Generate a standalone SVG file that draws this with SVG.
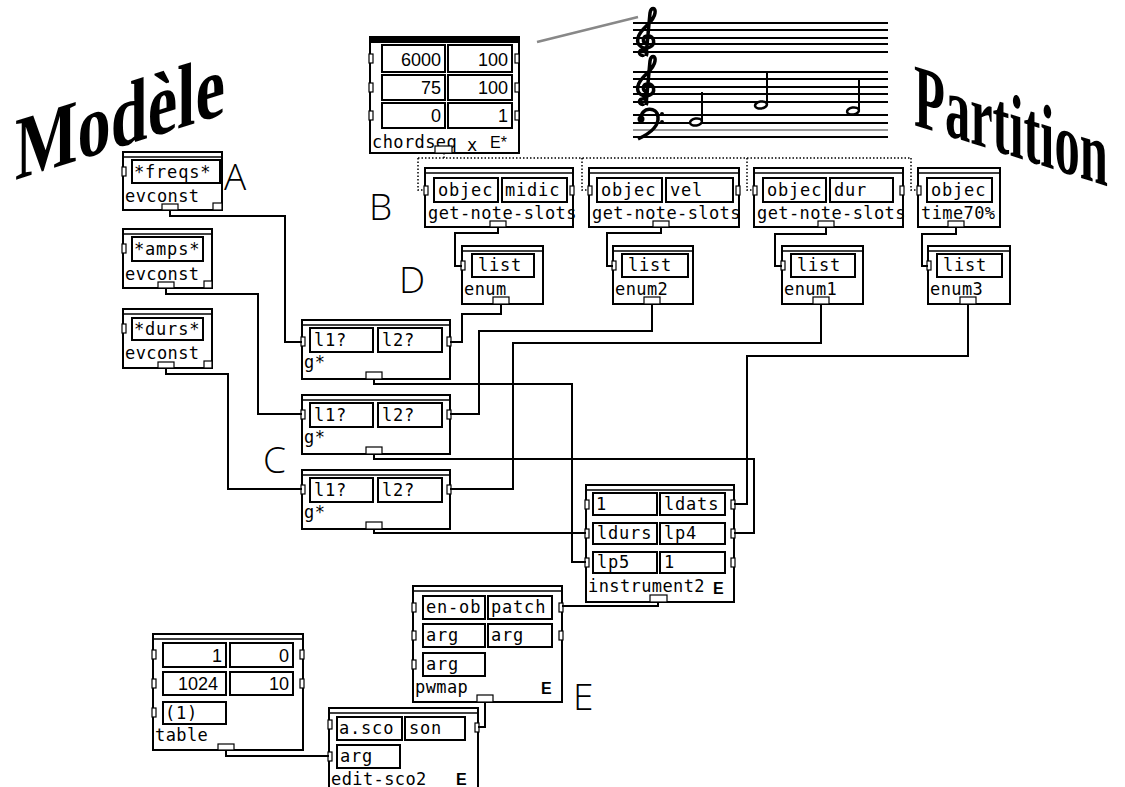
<svg xmlns="http://www.w3.org/2000/svg" width="1125" height="787" viewBox="0 0 1125 787">
<style>
.box{fill:#fff;stroke:#000;stroke-width:2}
.bar{stroke:#000;stroke-width:1.5}
.fld{fill:none;stroke:#000;stroke-width:2}
.io{fill:#fff;stroke:#000;stroke-width:1.2}
.t{font-family:"DejaVu Sans Mono","Liberation Mono",monospace;font-size:17px;letter-spacing:0.8px;fill:#000}
.lb{font-family:"DejaVu Sans Mono","Liberation Mono",monospace;font-size:17px;letter-spacing:0.4px;fill:#000}
.n{font-family:"Liberation Sans",Arial,sans-serif;font-size:18px;fill:#000}
.e{font-family:"Liberation Sans",Arial,sans-serif;font-size:16px;fill:#000}
.big{font-family:"Open Sans","Liberation Sans",sans-serif;font-weight:300;font-size:37px;fill:#000}
.title{font-family:"Liberation Serif","Times New Roman",serif;font-weight:bold;fill:#000}
.wire{fill:none;stroke:#000;stroke-width:2}
.dot{fill:none;stroke:#000;stroke-width:1.5;stroke-dasharray:1.5 2}
.staff{stroke:#000;stroke-width:2}
</style>

<g id="title-modele"><text class="title" transform="translate(15,180) skewY(-17.5)" font-size="90" textLength="210" lengthAdjust="spacingAndGlyphs">Modèle</text></g>
<g id="title-partition"><text class="title" transform="translate(914,125) skewY(17.6) scale(0.562,1)" font-size="90">Partition</text></g>

<g id="labels">
<text class="big" x="224" y="190">A</text>
<text class="big" x="369" y="220">B</text>
<text class="big" x="263" y="473">C</text>
<text class="big" x="399" y="293">D</text>
<text class="big" x="573" y="710">E</text>
</g>

<g id="score">
<line x1="537" y1="42" x2="638" y2="17" stroke="#888" stroke-width="2.5"/>
<g class="staff">
<line x1="633" y1="23" x2="888" y2="23"/><line x1="633" y1="30" x2="888" y2="30"/><line x1="633" y1="38" x2="888" y2="38"/><line x1="633" y1="44" x2="888" y2="44"/><line x1="633" y1="52" x2="888" y2="52"/>
<line x1="633" y1="72" x2="888" y2="72"/><line x1="633" y1="79" x2="888" y2="79"/><line x1="633" y1="87" x2="888" y2="87"/><line x1="633" y1="94" x2="888" y2="94"/><line x1="633" y1="102" x2="888" y2="102"/>
<line x1="633" y1="115" x2="888" y2="115"/><line x1="633" y1="123" x2="888" y2="123"/><line x1="633" y1="130" x2="888" y2="130" stroke="#999"/><line x1="633" y1="137" x2="888" y2="137"/>
</g>
<g fill="none" stroke="#000" stroke-width="3.5">
<path d="M644,55 C640,57 637,51 642,50 C646,49 648,53 646,56 M646,56 L650,13 C651,7 656,7 655,13 C654,23 640,28 638,38 C636,46 644,50 650,47 C656,44 654,36 648,36 C642,36 642,43 647,44"/>
<path d="M644,104 C640,106 637,100 642,99 C646,98 648,102 646,105 M646,105 L650,61 C651,55 656,55 655,61 C654,71 640,76 638,86 C636,94 644,98 650,95 C656,92 654,84 648,84 C642,84 642,91 647,92"/>
<path d="M641,118 C641,107 657,106 658,117 C659,127 649,134 638,139"/>
</g>
<circle cx="641" cy="119" r="3.5" fill="#000"/>
<circle cx="662" cy="114" r="2" fill="#000"/><circle cx="662" cy="122" r="2" fill="#000"/>
<g fill="#fff" stroke="#000" stroke-width="2.5">
<ellipse cx="696" cy="122" rx="6" ry="3.5" transform="rotate(-10 696 122)"/>
<ellipse cx="761" cy="105" rx="6" ry="3.5" transform="rotate(-10 761 105)"/>
<ellipse cx="853" cy="111" rx="6" ry="3.5" transform="rotate(-10 853 111)"/>
</g>
<g stroke="#000" stroke-width="2">
<line x1="702" y1="92" x2="702" y2="121"/>
<line x1="767" y1="73" x2="767" y2="104"/>
<line x1="859" y1="80" x2="859" y2="110"/>
</g>
</g>

<g id="chordseq">
<rect class="box" x="370" y="37" width="149" height="116"/>
<rect x="370" y="37" width="149" height="6" fill="#000"/>
<rect class="fld" x="382" y="45" width="63" height="27"/><rect class="fld" x="448" y="45" width="64" height="27"/>
<rect class="fld" x="382" y="75" width="63" height="25"/><rect class="fld" x="448" y="75" width="64" height="25"/>
<rect class="fld" x="382" y="103" width="63" height="25"/><rect class="fld" x="448" y="103" width="64" height="25"/>
<rect class="io" x="369" y="54" width="4" height="9"/><rect class="io" x="369" y="83" width="4" height="9"/><rect class="io" x="369" y="111" width="4" height="9"/>
<rect class="io" x="515" y="54" width="4" height="9"/><rect class="io" x="515" y="83" width="4" height="9"/><rect class="io" x="515" y="111" width="4" height="9"/>
<text class="n" x="441" y="66" text-anchor="end">6000</text><text class="n" x="508" y="66" text-anchor="end">100</text>
<text class="n" x="441" y="94" text-anchor="end">75</text><text class="n" x="508" y="94" text-anchor="end">100</text>
<text class="n" x="441" y="122" text-anchor="end">0</text><text class="n" x="508" y="122" text-anchor="end">1</text>
<text class="lb" x="372" y="148">chordseq</text>
<text class="lb" x="467" y="151" font-size="12">x</text>
<text class="e" x="490" y="148">E*</text>
<rect class="io" x="435" y="146" width="17" height="7"/>
</g>

<g id="get-note-slots-1">
<rect class="box" x="425" y="168" width="148" height="59"/><line class="bar" x1="425" y1="173" x2="573" y2="173"/>
<rect class="fld" x="434" y="178" width="64" height="24"/><rect class="fld" x="502" y="178" width="65" height="24"/>
<text class="t" x="438" y="196">objec</text><text class="t" x="505" y="196">midic</text>
<text class="lb" x="428" y="219">get-note-slots</text>
<rect class="io" x="424" y="186" width="4" height="9"/><rect class="io" x="570" y="186" width="4" height="9"/>
<rect class="io" x="490" y="221" width="16" height="6"/>
</g>
<g id="get-note-slots-2">
<rect class="box" x="589" y="168" width="150" height="59"/><line class="bar" x1="589" y1="173" x2="739" y2="173"/>
<rect class="fld" x="597" y="178" width="65" height="24"/><rect class="fld" x="666" y="178" width="67" height="24"/>
<text class="t" x="601" y="196">objec</text><text class="t" x="670" y="196">vel</text>
<text class="lb" x="592" y="219">get-note-slots</text>
<rect class="io" x="588" y="186" width="4" height="9"/><rect class="io" x="736" y="186" width="4" height="9"/>
<rect class="io" x="653" y="221" width="16" height="6"/>
</g>
<g id="get-note-slots-3">
<rect class="box" x="754" y="168" width="149" height="59"/><line class="bar" x1="754" y1="173" x2="903" y2="173"/>
<rect class="fld" x="763" y="178" width="63" height="24"/><rect class="fld" x="830" y="178" width="63" height="24"/>
<text class="t" x="767" y="196">objec</text><text class="t" x="834" y="196">dur</text>
<text class="lb" x="757" y="219">get-note-slots</text>
<rect class="io" x="753" y="186" width="4" height="9"/><rect class="io" x="900" y="186" width="4" height="9"/>
<rect class="io" x="818" y="221" width="16" height="6"/>
</g>
<g id="time70">
<rect class="box" x="918" y="168" width="82" height="59"/><line class="bar" x1="918" y1="173" x2="1000" y2="173"/>
<rect class="fld" x="927" y="178" width="65" height="24"/>
<text class="t" x="931" y="196">objec</text>
<text class="lb" x="921" y="219">time70%</text>
<rect class="io" x="917" y="186" width="4" height="9"/>
<rect class="io" x="948" y="221" width="16" height="6"/>
</g>

<g id="enum">
<rect class="box" x="462" y="246" width="81" height="58"/><line class="bar" x1="462" y1="251" x2="543" y2="251"/>
<rect class="fld" x="472" y="254" width="62" height="23"/><text class="t" x="478" y="271">list</text>
<text class="lb" x="464" y="295">enum</text>
<rect class="io" x="461" y="261" width="4" height="9"/><rect class="io" x="493" y="297" width="16" height="7"/>
</g>
<g id="enum2">
<rect class="box" x="613" y="246" width="80" height="58"/><line class="bar" x1="613" y1="251" x2="693" y2="251"/>
<rect class="fld" x="622" y="254" width="66" height="23"/><text class="t" x="628" y="271">list</text>
<text class="lb" x="615" y="295">enum2</text>
<rect class="io" x="612" y="261" width="4" height="9"/><rect class="io" x="644" y="297" width="16" height="7"/>
</g>
<g id="enum1">
<rect class="box" x="782" y="246" width="81" height="58"/><line class="bar" x1="782" y1="251" x2="863" y2="251"/>
<rect class="fld" x="791" y="254" width="64" height="23"/><text class="t" x="797" y="271">list</text>
<text class="lb" x="784" y="295">enum1</text>
<rect class="io" x="781" y="261" width="4" height="9"/><rect class="io" x="813" y="297" width="16" height="7"/>
</g>
<g id="enum3">
<rect class="box" x="928" y="246" width="82" height="58"/><line class="bar" x1="928" y1="251" x2="1010" y2="251"/>
<rect class="fld" x="937" y="254" width="65" height="23"/><text class="t" x="943" y="271">list</text>
<text class="lb" x="930" y="295">enum3</text>
<rect class="io" x="927" y="261" width="4" height="9"/><rect class="io" x="960" y="297" width="16" height="7"/>
</g>

<g id="evconst-freqs">
<rect class="box" x="123" y="152" width="99" height="58"/><line class="bar" x1="123" y1="157" x2="222" y2="157"/>
<rect class="fld" x="132" y="160" width="88" height="23"/><text class="t" x="134" y="178">*freqs*</text>
<text class="lb" x="125" y="202">evconst</text>
<rect class="io" x="122" y="167" width="4" height="9"/><rect class="io" x="162" y="204" width="16" height="6"/><rect class="io" x="213" y="203" width="9" height="7"/>
</g>
<g id="evconst-amps">
<rect class="box" x="123" y="229" width="89" height="59"/><line class="bar" x1="123" y1="234" x2="212" y2="234"/>
<rect class="fld" x="132" y="237" width="71" height="24"/><text class="t" x="134" y="255">*amps*</text>
<text class="lb" x="125" y="280">evconst</text>
<rect class="io" x="122" y="244" width="4" height="9"/><rect class="io" x="158" y="282" width="16" height="6"/><rect class="io" x="204" y="281" width="8" height="7"/>
</g>
<g id="evconst-durs">
<rect class="box" x="123" y="309" width="89" height="59"/><line class="bar" x1="123" y1="314" x2="212" y2="314"/>
<rect class="fld" x="132" y="318" width="71" height="22"/><text class="t" x="134" y="335">*durs*</text>
<text class="lb" x="125" y="359">evconst</text>
<rect class="io" x="122" y="324" width="4" height="9"/><rect class="io" x="158" y="362" width="16" height="6"/><rect class="io" x="204" y="361" width="8" height="7"/>
</g>

<g id="g-1">
<rect class="box" x="302" y="320" width="148" height="59"/><line class="bar" x1="302" y1="325" x2="450" y2="325"/>
<rect class="fld" x="310" y="328" width="63" height="24"/><rect class="fld" x="378" y="328" width="64" height="24"/>
<text class="t" x="314" y="346">l1?</text><text class="t" x="382" y="346">l2?</text>
<text class="lb" x="304" y="368">g*</text>
<rect class="io" x="301" y="337" width="4" height="9"/><rect class="io" x="447" y="337" width="4" height="9"/>
<rect class="io" x="366" y="372" width="16" height="7"/>
</g>
<g id="g-2">
<rect class="box" x="302" y="395" width="148" height="59"/><line class="bar" x1="302" y1="400" x2="450" y2="400"/>
<rect class="fld" x="310" y="403" width="63" height="24"/><rect class="fld" x="378" y="403" width="64" height="24"/>
<text class="t" x="314" y="421">l1?</text><text class="t" x="382" y="421">l2?</text>
<text class="lb" x="304" y="443">g*</text>
<rect class="io" x="301" y="410" width="4" height="9"/><rect class="io" x="447" y="410" width="4" height="9"/>
<rect class="io" x="366" y="447" width="16" height="7"/>
</g>
<g id="g-3">
<rect class="box" x="302" y="470" width="148" height="59"/><line class="bar" x1="302" y1="475" x2="450" y2="475"/>
<rect class="fld" x="310" y="478" width="63" height="24"/><rect class="fld" x="378" y="478" width="64" height="24"/>
<text class="t" x="314" y="496">l1?</text><text class="t" x="382" y="496">l2?</text>
<text class="lb" x="304" y="518">g*</text>
<rect class="io" x="301" y="485" width="4" height="9"/><rect class="io" x="447" y="485" width="4" height="9"/>
<rect class="io" x="366" y="522" width="16" height="7"/>
</g>

<g id="instrument2">
<rect class="box" x="586" y="485" width="148" height="117"/><line class="bar" x1="586" y1="490" x2="734" y2="490"/>
<rect class="fld" x="593" y="493" width="64" height="22"/><rect class="fld" x="660" y="493" width="65" height="22"/>
<rect class="fld" x="593" y="523" width="64" height="21"/><rect class="fld" x="660" y="523" width="65" height="21"/>
<rect class="fld" x="593" y="552" width="64" height="21"/><rect class="fld" x="660" y="552" width="65" height="21"/>
<text class="t" x="596" y="510">1</text><text class="t" x="664" y="510">ldats</text>
<text class="t" x="597" y="539">ldurs</text><text class="t" x="664" y="539">lp4</text>
<text class="t" x="597" y="568">lp5</text><text class="t" x="664" y="568">1</text>
<text class="lb" x="588" y="592">instrument2</text><text class="e" x="713" y="594" font-weight="bold">E</text>
<rect class="io" x="585" y="500" width="4" height="9"/><rect class="io" x="585" y="529" width="4" height="9"/><rect class="io" x="585" y="558" width="4" height="9"/>
<rect class="io" x="731" y="500" width="4" height="9"/><rect class="io" x="731" y="529" width="4" height="9"/><rect class="io" x="731" y="558" width="4" height="9"/>
<rect class="io" x="650" y="595" width="17" height="7"/>
</g>

<g id="pwmap">
<rect class="box" x="413" y="586" width="149" height="116"/><line class="bar" x1="413" y1="591" x2="562" y2="591"/>
<rect class="fld" x="423" y="596" width="62" height="23"/><rect class="fld" x="488" y="596" width="64" height="23"/>
<rect class="fld" x="423" y="624" width="62" height="23"/><rect class="fld" x="488" y="624" width="64" height="23"/>
<rect class="fld" x="423" y="653" width="62" height="23"/>
<text class="t" x="426" y="613">en-ob</text><text class="t" x="491" y="613">patch</text>
<text class="t" x="426" y="641">arg</text><text class="t" x="491" y="641">arg</text>
<text class="t" x="426" y="670">arg</text>
<text class="lb" x="415" y="693">pwmap</text><text class="e" x="541" y="694" font-weight="bold">E</text>
<rect class="io" x="412" y="603" width="4" height="9"/><rect class="io" x="412" y="631" width="4" height="9"/><rect class="io" x="412" y="660" width="4" height="9"/>
<rect class="io" x="559" y="603" width="4" height="9"/><rect class="io" x="559" y="631" width="4" height="9"/>
<rect class="io" x="477" y="695" width="16" height="7"/>
</g>

<g id="table">
<rect class="box" x="153" y="634" width="150" height="116"/><line class="bar" x1="153" y1="639" x2="303" y2="639"/>
<rect class="fld" x="163" y="643" width="63" height="24"/><rect class="fld" x="230" y="643" width="63" height="24"/>
<rect class="fld" x="163" y="672" width="63" height="23"/><rect class="fld" x="230" y="672" width="63" height="23"/>
<rect class="fld" x="163" y="702" width="63" height="22"/>
<text class="n" x="222" y="662" text-anchor="end">1</text><text class="n" x="289" y="662" text-anchor="end">0</text>
<text class="n" x="218" y="690" text-anchor="end">1024</text><text class="n" x="289" y="690" text-anchor="end">10</text>
<text class="t" x="165" y="719">(1)</text>
<text class="lb" x="155" y="741">table</text>
<rect class="io" x="152" y="650" width="4" height="9"/><rect class="io" x="152" y="679" width="4" height="9"/><rect class="io" x="152" y="708" width="4" height="9"/>
<rect class="io" x="300" y="650" width="4" height="9"/><rect class="io" x="300" y="679" width="4" height="9"/>
<rect class="io" x="218" y="744" width="16" height="6"/>
</g>

<g id="edit-sco2">
<rect class="box" x="329" y="708" width="149" height="100"/><line class="bar" x1="329" y1="713" x2="478" y2="713"/>
<rect class="fld" x="337" y="717" width="65" height="23"/><rect class="fld" x="405" y="717" width="60" height="23"/>
<rect class="fld" x="337" y="745" width="63" height="23"/>
<text class="t" x="339" y="734">a.sco</text><text class="t" x="409" y="734">son</text>
<text class="t" x="340" y="762">arg</text>
<text class="lb" x="331" y="785">edit-sco2</text><text class="e" x="456" y="785" font-weight="bold">E</text>
<rect class="io" x="328" y="720" width="4" height="9"/><rect class="io" x="328" y="752" width="4" height="9"/>
<rect class="io" x="475" y="723" width="4" height="9"/>
</g>

<g id="connectors">
<path class="dot" d="M444,153 V158 M418,158 H911 M418,158 V190 H424 M582,158 V190 H588 M747,158 V190 H753 M911,158 V190 H917"/>
<path class="wire" d="M498,227 V233 H455 V266 H462"/>
<path class="wire" d="M661,227 V233 H607 V266 H613"/>
<path class="wire" d="M826,227 V234 H775 V266 H782"/>
<path class="wire" d="M956,227 V234 H922 V266 H928"/>
<path class="wire" d="M170,210 V216 H285 V342 H302"/>
<path class="wire" d="M166,288 V294 H258 V414 H302"/>
<path class="wire" d="M166,368 V374 H228 V489 H302"/>
<path class="wire" d="M501,304 V314 H462 V342 H450"/>
<path class="wire" d="M652,304 V331 H479 V414 H450"/>
<path class="wire" d="M821,304 V343 H513 V489 H450"/>
<path class="wire" d="M968,304 V356 H747 V504 H734"/>
<path class="wire" d="M374,379 V384 H572 V562 H586"/>
<path class="wire" d="M374,454 V459 H754 V533 H734"/>
<path class="wire" d="M374,529 V533 H586"/>
<path class="wire" d="M658,602 V606 H562"/>
<path class="wire" d="M485,702 V727 H478"/>
<path class="wire" d="M226,750 V756 H329"/>
</g>
</svg>
